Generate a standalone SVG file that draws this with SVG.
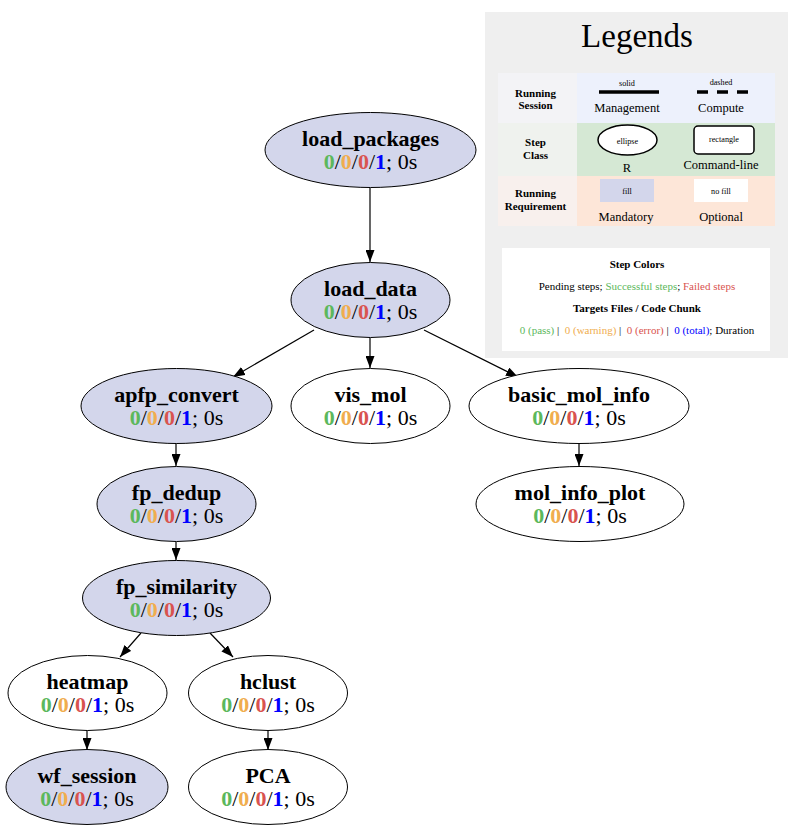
<svg xmlns="http://www.w3.org/2000/svg" width="800" height="830" viewBox="0 0 800 830" font-family="'Liberation Serif', 'DejaVu Serif', serif">
<style>
text, tspan{font-family:'Liberation Serif','DejaVu Serif',serif;text-anchor:middle}
text{fill:#000}
.nt{font-size:22px;font-weight:bold}
.st{font-size:22px}
.g{fill:#5cb85c;font-weight:bold}
.o{fill:#f0ad4e;font-weight:bold}
.r{fill:#d9534f;font-weight:bold}
.b{fill:#0000ff;font-weight:bold}
.gl{fill:#5cb85c}
.ol{fill:#f0ad4e}
.rl{fill:#d9534f}
.bl{fill:#0000ff}
.man{fill:#d3d6eb;stroke:#000;stroke-width:1}
.opt{fill:#ffffff;stroke:#000;stroke-width:1}
.edge{stroke:#000;stroke-width:1.2;fill:none;marker-end:url(#arr)}
.lh{font-size:11px;font-weight:bold}
.lt{font-size:12.5px}
.ls{font-size:8.2px}
.lb{font-size:11px}
.lbb{font-size:11px;font-weight:bold}
</style>
<defs>
<marker id="arr" markerWidth="12" markerHeight="9" refX="12" refY="4.5" orient="auto" markerUnits="userSpaceOnUse">
<path d="M0,0 L12,4.5 L0,9 z" fill="#000"/>
</marker>
</defs>
<rect x="0" y="0" width="800" height="830" fill="#ffffff"/>

<g id="legend">
<rect x="485" y="12" width="303" height="346" fill="#efefef"/>
<text x="637" y="47" style="font-size:33px">Legends</text>
<rect x="498" y="73" width="79" height="50" fill="#f3f3f6"/>
<rect x="577" y="73" width="198" height="50" fill="#edf1fc"/>
<rect x="498" y="123" width="79" height="53" fill="#eff2ee"/>
<rect x="577" y="123" width="198" height="53" fill="#d5e8d4"/>
<rect x="498" y="176" width="79" height="50" fill="#f8f0ed"/>
<rect x="577" y="176" width="198" height="50" fill="#fde6d8"/>
<text class="lh" x="535.5" y="97">Running</text>
<text class="lh" x="535.5" y="109">Session</text>
<text class="lh" x="535.5" y="146">Step</text>
<text class="lh" x="535.5" y="159">Class</text>
<text class="lh" x="535.5" y="197">Running</text>
<text class="lh" x="535.5" y="210">Requirement</text>
<text class="ls" x="627" y="86">solid</text>
<line x1="599" y1="92" x2="659" y2="92" stroke="#000" stroke-width="3.5"/>
<text class="lt" x="627" y="112">Management</text>
<text class="ls" x="721" y="85">dashed</text>
<line x1="697" y1="92" x2="748" y2="92" stroke="#000" stroke-width="3.5" stroke-dasharray="11,9"/>
<text class="lt" x="721" y="112">Compute</text>
<ellipse cx="627.5" cy="140" rx="29.5" ry="15" fill="#fff" stroke="#000" stroke-width="1.5"/>
<text class="ls" x="627.5" y="144">ellipse</text>
<text class="lt" x="627" y="172">R</text>
<rect x="694" y="126" width="60" height="28" rx="4" fill="#fff" stroke="#000" stroke-width="1.5"/>
<text class="ls" x="724" y="142">rectangle</text>
<text class="lt" x="721" y="169">Command-line</text>
<rect x="600" y="179" width="54" height="23" fill="#d3d6eb"/>
<text class="ls" x="627" y="194">fill</text>
<rect x="694" y="179" width="54" height="23" fill="#ffffff"/>
<text class="ls" x="721" y="194">no fill</text>
<text class="lt" x="626" y="221">Mandatory</text>
<text class="lt" x="721" y="221">Optional</text>
<rect x="502" y="248" width="268" height="103" fill="#ffffff"/>
<text class="lbb" x="637" y="268">Step Colors</text>
<text class="lb" x="637" y="290">Pending steps; <tspan class="gl">Successful steps</tspan>; <tspan class="rl">Failed steps</tspan></text>
<text class="lbb" x="637" y="312">Targets Files / Code Chunk</text>
<text class="lb" x="637" y="334" xml:space="preserve"><tspan class="gl">0 (pass)</tspan> |  <tspan class="ol">0 (warning)</tspan> |  <tspan class="rl">0 (error)</tspan> |  <tspan class="bl">0 (total)</tspan>; Duration</text>
</g>

<g id="edges">
<line class="edge" x1="370" y1="188" x2="370" y2="262"/>
<line class="edge" x1="314" y1="330" x2="233" y2="377"/>
<line class="edge" x1="370" y1="338" x2="370" y2="368"/>
<line class="edge" x1="424" y1="330" x2="518" y2="377"/>
<line class="edge" x1="176" y1="443" x2="176" y2="466"/>
<line class="edge" x1="579" y1="443" x2="579" y2="466"/>
<line class="edge" x1="176" y1="542" x2="176" y2="560"/>
<line class="edge" x1="141" y1="633" x2="120" y2="657"/>
<line class="edge" x1="210" y1="633" x2="233" y2="657"/>
<line class="edge" x1="87" y1="730" x2="87" y2="750"/>
<line class="edge" x1="268" y1="730" x2="268" y2="750"/>
</g>

<g id="load_packages">
<ellipse class="man" cx="370.5" cy="150" rx="105.5" ry="37.5"/>
<text class="nt" x="370.5" y="146">load_packages</text>
<text class="st" x="370.5" y="169"><tspan class="g">0</tspan>/<tspan class="o">0</tspan>/<tspan class="r">0</tspan>/<tspan class="b">1</tspan>; 0s</text>
</g>
<g id="load_data">
<ellipse class="man" cx="370.5" cy="300" rx="79.5" ry="37.5"/>
<text class="nt" x="370.5" y="296">load_data</text>
<text class="st" x="370.5" y="319"><tspan class="g">0</tspan>/<tspan class="o">0</tspan>/<tspan class="r">0</tspan>/<tspan class="b">1</tspan>; 0s</text>
</g>
<g id="apfp_convert">
<ellipse class="man" cx="176.5" cy="406" rx="95.5" ry="37.5"/>
<text class="nt" x="176.5" y="402">apfp_convert</text>
<text class="st" x="176.5" y="425"><tspan class="g">0</tspan>/<tspan class="o">0</tspan>/<tspan class="r">0</tspan>/<tspan class="b">1</tspan>; 0s</text>
</g>
<g id="vis_mol">
<ellipse class="opt" cx="370.5" cy="406" rx="79.5" ry="37.5"/>
<text class="nt" x="370.5" y="402">vis_mol</text>
<text class="st" x="370.5" y="425"><tspan class="g">0</tspan>/<tspan class="o">0</tspan>/<tspan class="r">0</tspan>/<tspan class="b">1</tspan>; 0s</text>
</g>
<g id="basic_mol_info">
<ellipse class="opt" cx="579" cy="406" rx="110" ry="37.5"/>
<text class="nt" x="579" y="402">basic_mol_info</text>
<text class="st" x="579" y="425"><tspan class="g">0</tspan>/<tspan class="o">0</tspan>/<tspan class="r">0</tspan>/<tspan class="b">1</tspan>; 0s</text>
</g>
<g id="fp_dedup">
<ellipse class="man" cx="176.5" cy="504" rx="79.5" ry="37.5"/>
<text class="nt" x="176.5" y="500">fp_dedup</text>
<text class="st" x="176.5" y="523"><tspan class="g">0</tspan>/<tspan class="o">0</tspan>/<tspan class="r">0</tspan>/<tspan class="b">1</tspan>; 0s</text>
</g>
<g id="mol_info_plot">
<ellipse class="opt" cx="580" cy="504" rx="104" ry="37.5"/>
<text class="nt" x="580" y="500">mol_info_plot</text>
<text class="st" x="580" y="523"><tspan class="g">0</tspan>/<tspan class="o">0</tspan>/<tspan class="r">0</tspan>/<tspan class="b">1</tspan>; 0s</text>
</g>
<g id="fp_similarity">
<ellipse class="man" cx="176.5" cy="598" rx="94" ry="37.5"/>
<text class="nt" x="176.5" y="594">fp_similarity</text>
<text class="st" x="176.5" y="617"><tspan class="g">0</tspan>/<tspan class="o">0</tspan>/<tspan class="r">0</tspan>/<tspan class="b">1</tspan>; 0s</text>
</g>
<g id="heatmap">
<ellipse class="opt" cx="87.5" cy="693" rx="79.5" ry="37.5"/>
<text class="nt" x="87.5" y="689">heatmap</text>
<text class="st" x="87.5" y="712"><tspan class="g">0</tspan>/<tspan class="o">0</tspan>/<tspan class="r">0</tspan>/<tspan class="b">1</tspan>; 0s</text>
</g>
<g id="hclust">
<ellipse class="opt" cx="268" cy="693" rx="79.5" ry="37.5"/>
<text class="nt" x="268" y="689">hclust</text>
<text class="st" x="268" y="712"><tspan class="g">0</tspan>/<tspan class="o">0</tspan>/<tspan class="r">0</tspan>/<tspan class="b">1</tspan>; 0s</text>
</g>
<g id="wf_session">
<ellipse class="man" cx="87" cy="787" rx="81" ry="37.5"/>
<text class="nt" x="87" y="783">wf_session</text>
<text class="st" x="87" y="806"><tspan class="g">0</tspan>/<tspan class="o">0</tspan>/<tspan class="r">0</tspan>/<tspan class="b">1</tspan>; 0s</text>
</g>
<g id="PCA">
<ellipse class="opt" cx="268" cy="787" rx="79.5" ry="37.5"/>
<text class="nt" x="268" y="783">PCA</text>
<text class="st" x="268" y="806"><tspan class="g">0</tspan>/<tspan class="o">0</tspan>/<tspan class="r">0</tspan>/<tspan class="b">1</tspan>; 0s</text>
</g>
</svg>
